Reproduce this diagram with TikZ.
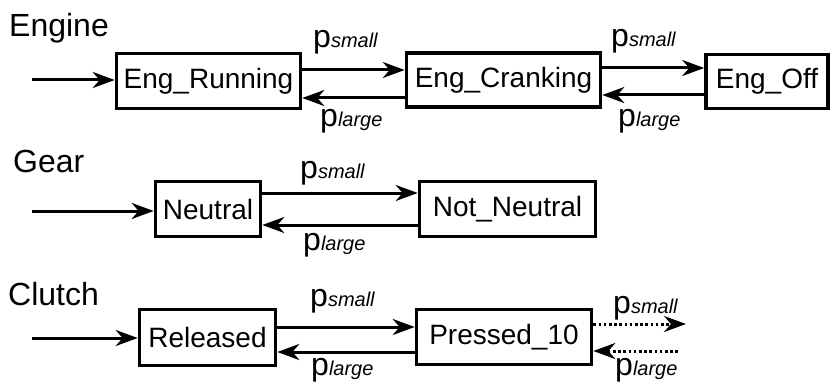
\documentclass[tikz,border=0pt]{standalone}
\usepackage{fontspec}
\setmainfont{Liberation Sans}
\usetikzlibrary{arrows.meta}
\newcommand{\pSmall}{{\fontsize{32}{32}\selectfont p}{\fontsize{20}{20}\selectfont\itshape small}}
\newcommand{\pLarge}{{\fontsize{32}{32}\selectfont p}{\fontsize{20}{20}\selectfont\itshape large}}
\tikzset{
  statebox/.style={draw, line width=3.6pt, inner sep=0pt, anchor=center, font=\fontsize{28}{28}\selectfont},
  titletext/.style={anchor=base west, inner sep=0pt, font=\fontsize{32}{32}\selectfont},
  plabel/.style={anchor=base west, inner sep=0pt},
  arr/.style={line width=3pt, -{Stealth[length=22pt,width=16pt,inset=7pt]}},
  dotarr/.style={arr, dash pattern=on 2.6pt off 2.6pt},
}
\begin{document}
\begin{tikzpicture}[x=1pt,y=-1pt]
\useasboundingbox (0,0) rectangle (832,385);
% ---------- Engine ----------
\node[titletext] (tEng) at (9,37) {Engine};
\node[statebox, minimum width=184pt, minimum height=55pt] (er) at (208.5,81) {Eng\_Running};
\node[statebox, minimum width=194pt, minimum height=54pt] (ec) at (503.5,80) {Eng\_Cranking};
\node[statebox, minimum width=122pt, minimum height=54pt] (eo) at (767,81.5) {Eng\_Off};
\coordinate (e0) at (32,80);
\draw[arr] (e0) -- (e0 -| er.west);
\draw[arr] ([yshift=11pt]er.east) coordinate (a1) -- (a1 -| ec.west);
\draw[arr] ([yshift=-18pt]ec.west) coordinate (a2) -- (a2 -| er.east);
\draw[arr] ([yshift=12pt]ec.east) coordinate (a3) -- (a3 -| eo.west);
\draw[arr] ([yshift=-13.5pt]eo.west) coordinate (a4) -- (a4 -| ec.east);
\node[plabel] (ps1) at (313,48) {\pSmall};
\node[plabel] (pl1) at (320,127) {\pLarge};
\node[plabel] (ps2) at (611,47) {\pSmall};
\node[plabel] (pl2) at (618,127) {\pLarge};
% ---------- Gear ----------
\node[titletext] (tGear) at (13,172) {Gear};
\node[statebox, minimum width=105pt, minimum height=55pt] (ne) at (208,209) {Neutral};
\node[statebox, minimum width=176pt, minimum height=55pt] (nn) at (507.5,209) {Not\_Neutral};
\coordinate (g0) at (32,211);
\draw[arr] (g0) -- (g0 -| ne.west);
\draw[arr] ([yshift=16pt]ne.east) coordinate (b1) -- (b1 -| nn.west);
\draw[arr] ([yshift=-16pt]nn.west) coordinate (b2) -- (b2 -| ne.east);
\node[plabel] (ps3) at (300,178) {\pSmall};
\node[plabel] (pl3) at (303,250) {\pLarge};
% ---------- Clutch ----------
\node[titletext] (tClutch) at (8,305) {Clutch};
\node[statebox, minimum width=136pt, minimum height=56pt] (rel) at (207.5,337.5) {Released};
\node[statebox, minimum width=175pt, minimum height=55pt] (pr) at (504,337) {Pressed\_10};
\coordinate (c0) at (32,338);
\draw[arr] (c0) -- (c0 -| rel.west);
\draw[arr] ([yshift=10.5pt]rel.east) coordinate (c1) -- (c1 -| pr.west);
\draw[arr] ([yshift=-15pt]pr.west) coordinate (c2) -- (c2 -| rel.east);
\coordinate (outR) at (686,324);
\coordinate (inL) at (678,351);
\draw[dotarr] (outR -| pr.east) -- (outR);
\draw[dotarr] (inL) -- (inL -| pr.east);
\node[plabel] (ps4) at (310,306) {\pSmall};
\node[plabel] (pl4) at (311,375) {\pLarge};
\node[plabel] (ps5) at (613,313) {\pSmall};
\node[plabel] (pl5) at (615,375) {\pLarge};
\end{tikzpicture}
\end{document}
